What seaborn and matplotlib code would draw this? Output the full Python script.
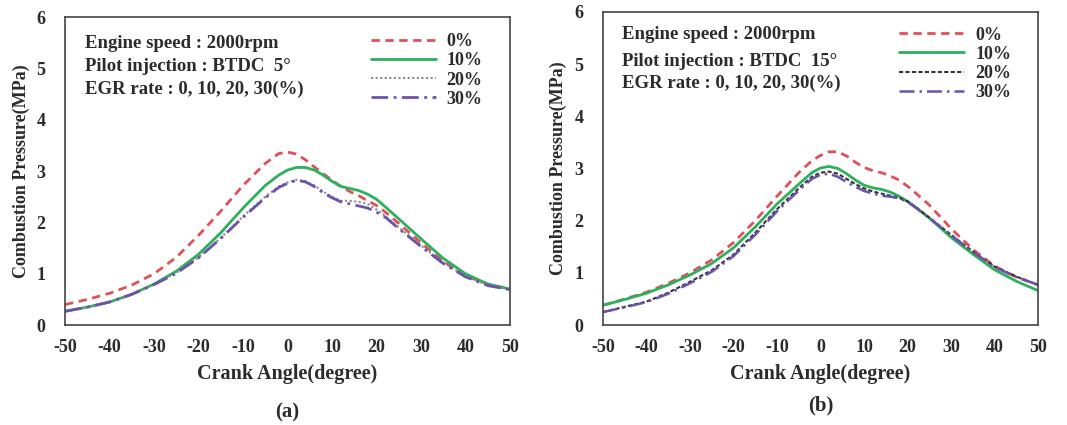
import matplotlib
matplotlib.use("Agg")
import matplotlib.pyplot as plt
from matplotlib.ticker import MultipleLocator
import seaborn as sns
import pandas as pd

# Crank angle grid (degree)
angle = [-50, -45, -40, -35, -30, -25, -20, -15, -10, -5, -2, 0, 2, 4, 6, 8,
         10, 12, 14, 16, 18, 20, 22, 25, 30, 35, 40, 45, 50]

egr_labels = ["0%", "10%", "20%", "30%"]

# (a) Pilot injection BTDC 5 deg: combustion pressure (MPa)
a_egr0 = [0.40, 0.50, 0.62, 0.78, 1.00, 1.32, 1.75, 2.22, 2.72, 3.15, 3.34, 3.37, 3.33, 3.22,
          3.08, 2.95, 2.82, 2.70, 2.60, 2.52, 2.42, 2.33, 2.20, 1.98, 1.60, 1.24, 0.96, 0.80, 0.70]
a_egr10 = [0.27, 0.35, 0.45, 0.60, 0.80, 1.05, 1.38, 1.80, 2.28, 2.72, 2.92, 3.02, 3.07, 3.07,
           3.02, 2.92, 2.80, 2.70, 2.66, 2.62, 2.55, 2.45, 2.30, 2.07, 1.68, 1.30, 1.00, 0.80, 0.70]
a_egr20 = [0.27, 0.35, 0.45, 0.60, 0.80, 1.02, 1.32, 1.70, 2.12, 2.50, 2.70, 2.78, 2.83, 2.80,
           2.72, 2.60, 2.50, 2.42, 2.42, 2.40, 2.36, 2.25, 2.12, 1.90, 1.55, 1.22, 0.95, 0.78, 0.70]
a_egr30 = [0.27, 0.35, 0.45, 0.60, 0.79, 1.01, 1.31, 1.69, 2.10, 2.48, 2.68, 2.76, 2.82, 2.79,
           2.70, 2.58, 2.48, 2.40, 2.36, 2.32, 2.28, 2.20, 2.10, 1.88, 1.53, 1.20, 0.94, 0.77, 0.69]

# (b) Pilot injection BTDC 15 deg: combustion pressure (MPa)
b_egr0 = [0.38, 0.50, 0.63, 0.80, 1.00, 1.25, 1.58, 2.00, 2.47, 2.92, 3.15, 3.25, 3.32, 3.32,
          3.24, 3.12, 3.02, 2.96, 2.92, 2.86, 2.78, 2.66, 2.52, 2.30, 1.85, 1.45, 1.13, 0.92, 0.77]
b_egr10 = [0.38, 0.49, 0.61, 0.77, 0.96, 1.18, 1.48, 1.88, 2.32, 2.70, 2.92, 3.01, 3.04, 3.00,
           2.90, 2.78, 2.68, 2.63, 2.60, 2.55, 2.47, 2.37, 2.25, 2.05, 1.68, 1.36, 1.06, 0.84, 0.66]
b_egr20 = [0.25, 0.35, 0.45, 0.62, 0.83, 1.05, 1.35, 1.77, 2.22, 2.62, 2.84, 2.92, 2.94, 2.90,
           2.80, 2.70, 2.62, 2.56, 2.52, 2.48, 2.44, 2.37, 2.25, 2.06, 1.73, 1.41, 1.12, 0.93, 0.77]
b_egr30 = [0.25, 0.34, 0.44, 0.60, 0.80, 1.02, 1.32, 1.73, 2.18, 2.58, 2.80, 2.88, 2.90, 2.84,
           2.74, 2.65, 2.57, 2.52, 2.48, 2.46, 2.43, 2.36, 2.24, 2.05, 1.72, 1.40, 1.11, 0.92, 0.77]

x_ticks = [-50, -40, -30, -20, -10, 0, 10, 20, 30, 40, 50]
y_ticks = [0, 1, 2, 3, 4, 5, 6]

sns.set_theme(style="white")
plt.rcParams["font.family"] = ["Liberation Serif", "DejaVu Serif"]
plt.rcParams["font.weight"] = "bold"
plt.rcParams["axes.unicode_minus"] = False

TXT = "#2b2b2b"
RED = "#e0505a"
GREEN = "#2db05c"
PURPLE = "#6a52ad"

styles_a = [
    dict(color=RED, ls=(0, (3.0, 2.0)), lw=2.0),
    dict(color=GREEN, ls="-", lw=2.0),
    dict(color="#8a8a8a", ls=(0, (1, 1.2)), lw=1.5),
    dict(color=PURPLE, ls=(0, (6, 2, 1, 2)), lw=2.0),
]
styles_b = [
    dict(color=RED, ls=(0, (3.0, 2.0)), lw=2.0),
    dict(color=GREEN, ls="-", lw=2.0),
    dict(color="#333333", ls=(0, (2.0, 1.1)), lw=1.5),
    dict(color=PURPLE, ls=(0, (6, 2, 1, 2)), lw=1.8),
]

fig = plt.figure(figsize=(10.67, 4.25), dpi=100)
ax_a = fig.add_axes([0.061, 0.235, 0.417, 0.725])
ax_b = fig.add_axes([0.565, 0.235, 0.408, 0.737])

panels = [
    (ax_a, [a_egr0, a_egr10, a_egr20, a_egr30], styles_a,
     "Pilot injection : BTDC  5\u00b0", "(a)", -0.282, [0.915, 0.84, 0.765], (0.975, 1.0)),
    (ax_b, [b_egr0, b_egr10, b_egr20, b_egr30], styles_b,
     "Pilot injection : BTDC  15\u00b0", "(b)", -0.256, [0.928, 0.843, 0.771], (0.975, 1.005)),
]

for ax, series, styles, pilot, tag, tag_y, text_y, leg_anchor in panels:
    for label, vals, st in zip(egr_labels, series, styles):
        df = pd.DataFrame({"angle": angle, "pressure": vals})
        sns.lineplot(data=df, x="angle", y="pressure", ax=ax, label=label,
                     color=st["color"], linestyle=st["ls"], linewidth=st["lw"])
    ax.set_xlim(-50, 50)
    ax.set_ylim(0, 6)
    ax.set_xticks(x_ticks)
    ax.set_yticks(y_ticks)
    ax.xaxis.set_minor_locator(MultipleLocator(5))
    ax.tick_params(axis="both", which="both", direction="in", colors=TXT,
                   labelsize=13, width=1.0)
    ax.tick_params(axis="both", which="major", length=4)
    ax.tick_params(axis="x", which="major", pad=10)
    ax.tick_params(axis="y", which="major", pad=14)
    ax.tick_params(axis="x", which="minor", length=4)
    for t in ax.get_xticklabels() + ax.get_yticklabels():
        t.set_fontweight("bold")
    for sp in ax.spines.values():
        sp.set_color("#444444")
        sp.set_linewidth(1.2)
    ax.set_xlabel("Crank Angle(degree)", fontsize=14.5, fontweight="bold", color=TXT, labelpad=6)
    ax.set_ylabel("Combustion Pressure(MPa)", fontsize=13, fontweight="bold", color=TXT, labelpad=5)
    for yy, txt in zip(text_y, ["Engine speed : 2000rpm", pilot, "EGR rate : 0, 10, 20, 30(%)"]):
        ax.text(0.045, yy, txt, transform=ax.transAxes, va="center",
                fontsize=13.5, fontweight="bold", color=TXT)
    ax.text(0.5, tag_y, tag, transform=ax.transAxes, ha="center", va="center",
            fontsize=15, fontweight="bold", color=TXT)
    leg = ax.legend(loc="upper right", bbox_to_anchor=leg_anchor, frameon=False,
                    handlelength=3.6, handletextpad=0.6, labelspacing=0.12,
                    prop={"weight": "bold", "size": 13})
    for t in leg.get_texts():
        t.set_color(TXT)

fig.savefig("out.png", dpi=100, facecolor="white")
